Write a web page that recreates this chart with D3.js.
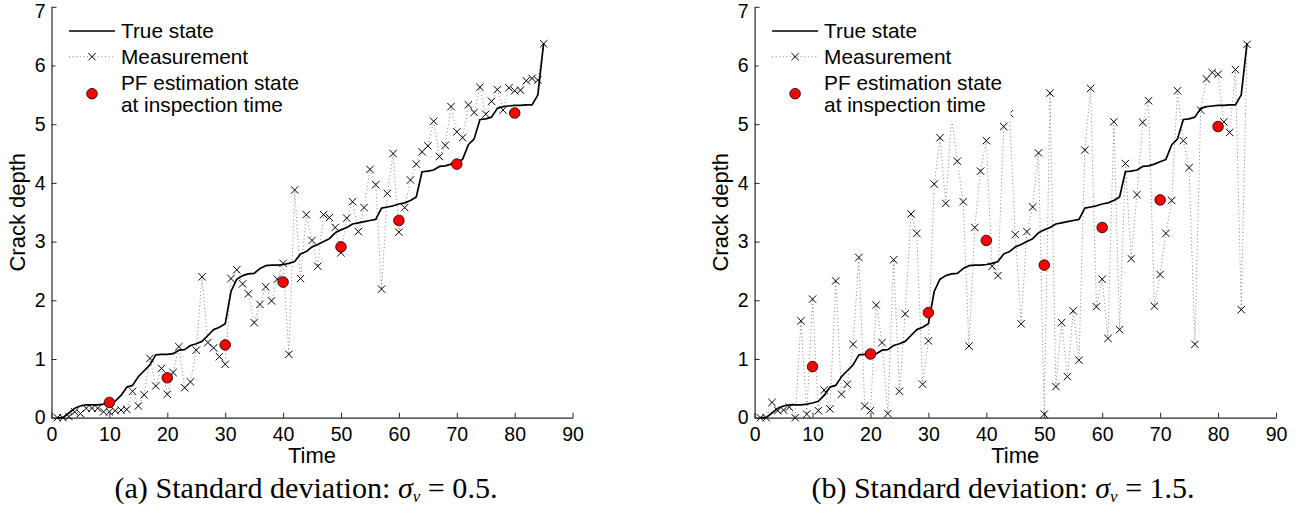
<!DOCTYPE html>
<html><head><meta charset="utf-8">
<script src="https://cdn.jsdelivr.net/npm/d3@7/dist/d3.min.js"></script>
<style>body{margin:0;background:#fff} svg{display:block}</style>
</head><body>
<svg id="c" width="1302" height="519"></svg>
<script>
// ---------- data ----------
const time = [1,2,3,4,5,6,7,8,9,10,11,12,13,14,15,16,17,18,19,20,21,22,23,24,25,26,27,28,29,30,
  31,32,33,34,35,36,37,38,39,40,41,42,43,44,45,46,47,48,49,50,51,52,53,54,55,56,57,58,59,60,
  61,62,63,64,65,66,67,68,69,70,71,72,73,74,75,76,77,78,79,80,81,82,83,84,85];
const trueState = [0.0,0.0,0.08,0.16,0.2,0.22,0.22,0.22,0.23,0.25,0.28,0.38,0.52,0.55,0.7,0.8,0.9,1.07,1.08,1.08,
  1.09,1.15,1.16,1.23,1.26,1.3,1.4,1.5,1.54,1.6,2.15,2.36,2.42,2.45,2.46,2.54,2.59,2.6,2.6,2.61,
  2.63,2.66,2.79,2.83,2.91,2.95,3.0,3.05,3.15,3.2,3.24,3.3,3.32,3.34,3.36,3.38,3.57,3.59,3.61,3.64,
  3.66,3.7,3.76,4.19,4.2,4.22,4.28,4.29,4.32,4.36,4.4,4.65,4.75,5.08,5.09,5.12,5.27,5.3,5.31,5.32,
  5.32,5.33,5.33,5.5,6.38];
const measA = [0.0,0.0,0.02,0.1,0.07,0.16,0.16,0.16,0.1,0.1,0.12,0.13,0.14,0.45,0.2,0.39,1.01,0.54,0.84,0.4,
  0.77,1.21,0.51,0.61,1.15,2.4,1.28,1.19,1.04,0.91,2.37,2.52,2.28,2.11,1.62,1.93,2.23,1.99,2.36,2.63,
  1.08,3.88,2.37,3.46,3.02,2.58,3.46,3.41,3.24,2.81,3.4,3.68,3.17,3.58,4.23,3.97,2.19,3.82,4.5,3.16,
  3.58,4.05,4.32,4.53,4.63,5.05,4.45,4.64,5.3,4.87,4.77,5.33,5.2,5.63,5.17,5.39,5.59,5.24,5.62,5.57,
  5.58,5.74,5.78,5.75,6.37];
const measB = [0.0,0.0,0.26,0.12,0.13,0.18,0.0,1.65,0.06,2.02,0.12,0.47,0.15,2.33,0.4,0.57,1.25,2.73,0.2,0.12,
  1.92,1.28,0.07,2.69,0.45,1.77,3.47,3.14,0.57,1.31,3.98,4.77,3.65,5.12,4.37,3.68,1.22,3.24,4.2,4.72,
  2.58,2.42,4.96,5.18,3.12,1.6,3.17,3.59,4.51,0.06,5.53,0.53,1.62,0.7,1.82,0.98,4.56,5.61,1.89,2.36,
  1.35,5.04,1.5,4.33,2.71,3.8,5.03,5.4,1.9,2.44,3.14,3.7,5.57,4.72,4.26,1.25,5.24,5.77,5.88,5.85,
  5.04,4.86,5.93,1.84,6.36];
const inspTime = [10,20,30,40,50,60,70,80];
const pfA = [0.26,0.68,1.24,2.31,2.91,3.36,4.32,5.19];
const pfB = [0.87,1.085,1.79,3.02,2.6,3.24,3.71,4.96];
const xTicks = [0,10,20,30,40,50,60,70,80,90];
const yTicks = [0,1,2,3,4,5,6,7];
const legendLabels = ["True state","Measurement","PF estimation state","at inspection time"];
const captionLetters = ["(a)","(b)"];
const sigmaValues = ["0.5","1.5"];

// ---------- layout ----------
const svg = d3.select("#c");
const panels = [
  {x0:51.5, x1:572.6, meas:measA, pf:pfA, letter:captionLetters[0], sigma:sigmaValues[0], capX:306},
  {x0:754.6, x1:1276, meas:measB, pf:pfB, letter:captionLetters[1], sigma:sigmaValues[1], capX:1003}
];
const yTop = 6.8, yBot = 417.7;
const axisColor = "#262626";
const sans = "'Liberation Sans',Arial,Helvetica,sans-serif";
const tickFont = "19.5px";
const legendFont = "20.8px";
const labelFont = "22px";

panels.forEach(p => {
  const x = d3.scaleLinear().domain([0,90]).range([p.x0,p.x1]);
  const y = d3.scaleLinear().domain([0,7]).range([yBot,yTop]);
  const g = svg.append("g");

  // axes
  const ax = g.append("g").attr("transform",`translate(0,${yBot})`)
    .call(d3.axisBottom(x).tickValues(xTicks).tickFormat(d3.format("d")).tickSizeInner(-5).tickSizeOuter(0).tickPadding(9));
  const ay = g.append("g").attr("transform",`translate(${p.x0},0)`)
    .call(d3.axisLeft(y).tickValues(yTicks).tickFormat(d3.format("d")).tickSizeInner(-5).tickSizeOuter(0).tickPadding(6));
  [ax,ay].forEach(a => {
    a.select(".domain").attr("stroke",axisColor).attr("stroke-width",1.2);
    a.selectAll(".tick line").attr("stroke",axisColor).attr("stroke-width",1);
    a.selectAll(".tick text").attr("fill","#000").style("font-family",sans).style("font-size",tickFont);
  });
  // top label nudged down so it stays inside the picture
  ay.selectAll(".tick text").filter(d=>d===7).attr("y",4.7);

  // measurement dotted line
  const pts = time.map((t,i)=>[t,p.meas[i]]);
  g.append("path").datum(pts)
    .attr("d", d3.line().x(d=>x(d[0])).y(d=>y(d[1])))
    .attr("fill","none").attr("stroke","#000").attr("stroke-width",0.8)
    .attr("stroke-dasharray","1 2.6").attr("opacity",0.6);
  // true state line
  g.append("path").datum(time.map((t,i)=>[t,trueState[i]]))
    .attr("d", d3.line().x(d=>x(d[0])).y(d=>y(d[1])))
    .attr("fill","none").attr("stroke","#000").attr("stroke-width",1.7).attr("stroke-linejoin","round");
  // markers
  const s = 3.7;
  g.append("g").selectAll("path").data(pts).join("path")
    .attr("transform",d=>`translate(${x(d[0])},${y(d[1])})`)
    .attr("d",`M${-s},${-s}L${s},${s}M${-s},${s}L${s},${-s}`)
    .attr("stroke","#000").attr("stroke-width",1).attr("fill","none");
  // PF estimates
  g.append("g").selectAll("circle").data(inspTime.map((t,i)=>[t,p.pf[i]])).join("circle")
    .attr("cx",d=>x(d[0])).attr("cy",d=>y(d[1])).attr("r",5.3)
    .attr("fill","#ff0000").attr("stroke","#000").attr("stroke-width",0.8);

  // legend
  const lg = g.append("g").attr("transform",`translate(${p.x0},0)`);
  lg.append("rect").attr("x",4).attr("y",12).attr("width",252).attr("height",109).attr("fill","#fff");
  lg.append("line").attr("x1",17.5).attr("x2",63.5).attr("y1",31).attr("y2",31)
    .attr("stroke","#000").attr("stroke-width",1.7);
  lg.append("line").attr("x1",17.5).attr("x2",63.5).attr("y1",56.7).attr("y2",56.7)
    .attr("stroke","#000").attr("stroke-width",0.8).attr("stroke-dasharray","1 2.6").attr("opacity",0.6);
  lg.append("path").attr("transform","translate(40.5,56.7)")
    .attr("d",`M${-s},${-s}L${s},${s}M${-s},${s}L${s},${-s}`).attr("stroke","#000").attr("stroke-width",1);
  lg.append("circle").attr("cx",40.5).attr("cy",93.7).attr("r",5.3)
    .attr("fill","#ff0000").attr("stroke","#000").attr("stroke-width",0.8);
  const baselines = [37.7,64,89.5,112];
  legendLabels.forEach((t,i)=>{
    lg.append("text").attr("x",69.5).attr("y",baselines[i]).text(t)
      .style("font-family",sans).style("font-size",legendFont).attr("fill","#000");
  });

  // axis labels
  g.append("text").attr("x",(p.x0+p.x1)/2).attr("y",463).attr("text-anchor","middle").text("Time")
    .style("font-family",sans).style("font-size",labelFont);
  g.append("text").attr("transform",`translate(${p.x0-26.5},${(yTop+yBot)/2}) rotate(-90)`)
    .attr("text-anchor","middle").text("Crack depth")
    .style("font-family",sans).style("font-size",labelFont);

  // caption
  const cap = g.append("text").attr("x",p.capX).attr("y",498).attr("text-anchor","middle")
    .style("font-family","'Liberation Serif','Times New Roman',serif").style("font-size","24px");
  cap.append("tspan").text(p.letter+" Standard deviation: ");
  cap.append("tspan").style("font-style","italic").text("σ");
  cap.append("tspan").style("font-style","italic").style("font-size","17px").attr("dy",4).text("v");
  cap.append("tspan").attr("dy",-4).text(" = "+p.sigma+".");
  const w = cap.node().getComputedTextLength();
  const target = 385;
  cap.style("font-size",(24*target/w).toFixed(2)+"px");
});
</script>
</body></html>
